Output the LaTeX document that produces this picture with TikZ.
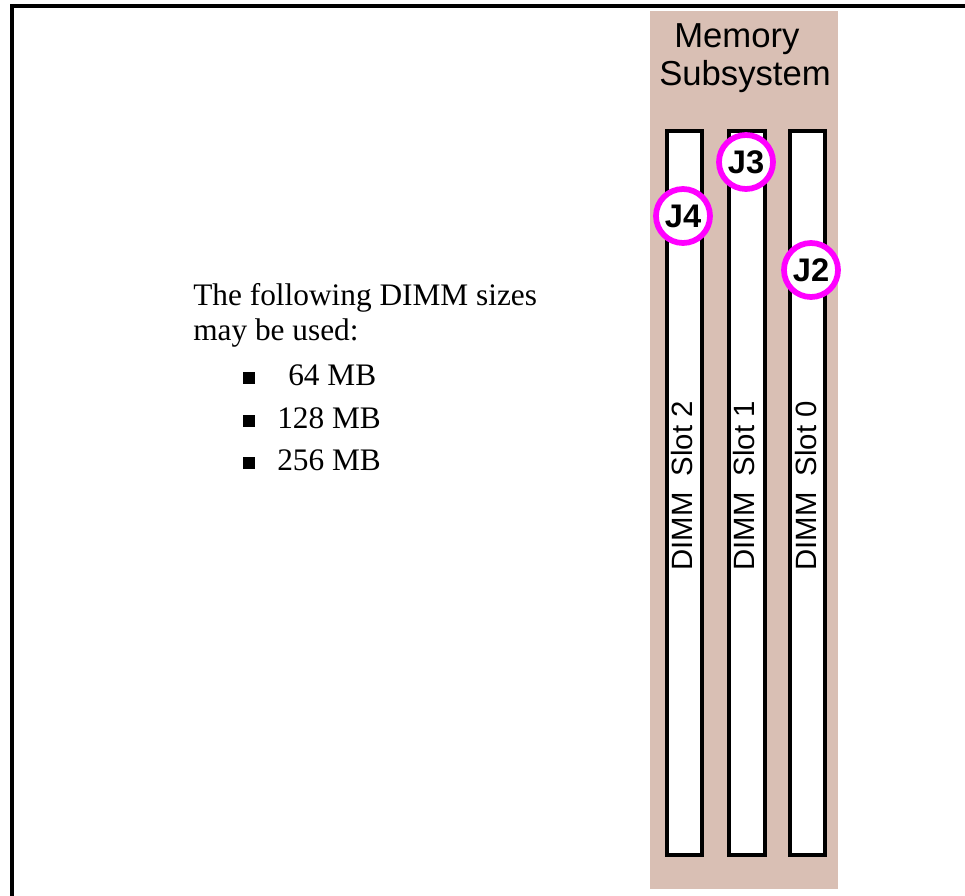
\documentclass[tikz,border=0pt]{standalone}
\usepackage{fontspec}
\setmainfont{Liberation Serif}
\newfontfamily\arialf{Liberation Sans}
\definecolor{panelc}{RGB}{217,191,180}
\definecolor{ringc}{RGB}{255,0,255}
\tikzset{
  frameline/.style={line width=2.3pt,black},
  slotbox/.style={draw=black,fill=white,line width=3pt},
  jring/.style={circle,draw=ringc,fill=white,line width=4.3pt,minimum size=40.5pt,inner sep=0pt,
     font=\arialf\bfseries\fontsize{24.5pt}{28pt}\selectfont},
  slotlabel/.style={rotate=90,anchor=base west,inner sep=0pt,
     font=\arialf\fontsize{22pt}{25pt}\selectfont},
  titletext/.style={anchor=base west,inner sep=0pt,font=\arialf\fontsize{26pt}{30pt}\selectfont},
  bodytext/.style={anchor=base west,inner sep=0pt,font=\fontsize{23.5pt}{27pt}\selectfont},
  bulletsq/.style={fill=black,draw=none}
}
\begin{document}
\begin{tikzpicture}[x=0.75pt,y=-0.75pt]
\useasboundingbox (0,0) rectangle (965,896);
% frame (top and left only)
\coordinate (ftl) at (12,6);
\coordinate (ftr) at (966,6);
\coordinate (fbl) at (12,897);
\draw[frameline] (ftr) -- (ftl) -- (fbl);
% memory panel
\fill[panelc] (650,11) rectangle (838,889);
\node[titletext] (t1) at (674,47) {Memory};
\node[titletext] (t2) at (659,85) {Subsystem};
% slots
\draw[slotbox] (667,131) rectangle (702,855);
\draw[slotbox] (729,131) rectangle (765,855);
\draw[slotbox] (790,131) rectangle (825,855);
\node[slotlabel] (s2) at (692,571) {DIMM\ \ Slot 2};
\node[slotlabel] (s1) at (754,571) {DIMM\ \ Slot 1};
\node[slotlabel] (s0) at (816,571) {DIMM\ \ Slot 0};
% rings
\node[jring] (j4) at (683,216) {J4};
\node[jring] (j3) at (746,162) {J3};
\node[jring] (j2) at (811,270) {J2};
% text
\node[bodytext] (l1) at (193,305) {The following DIMM sizes};
\node[bodytext] (l2) at (193,340) {may be used:};
\fill[bulletsq] (243,372) rectangle (255,384);
\fill[bulletsq] (243,415) rectangle (255,427);
\fill[bulletsq] (243,457) rectangle (255,469);
\node[bodytext] (b1) at (288,385) {64 MB};
\node[bodytext] (b2) at (277,428) {128 MB};
\node[bodytext] (b3) at (277,470) {256 MB};
\end{tikzpicture}
\end{document}
